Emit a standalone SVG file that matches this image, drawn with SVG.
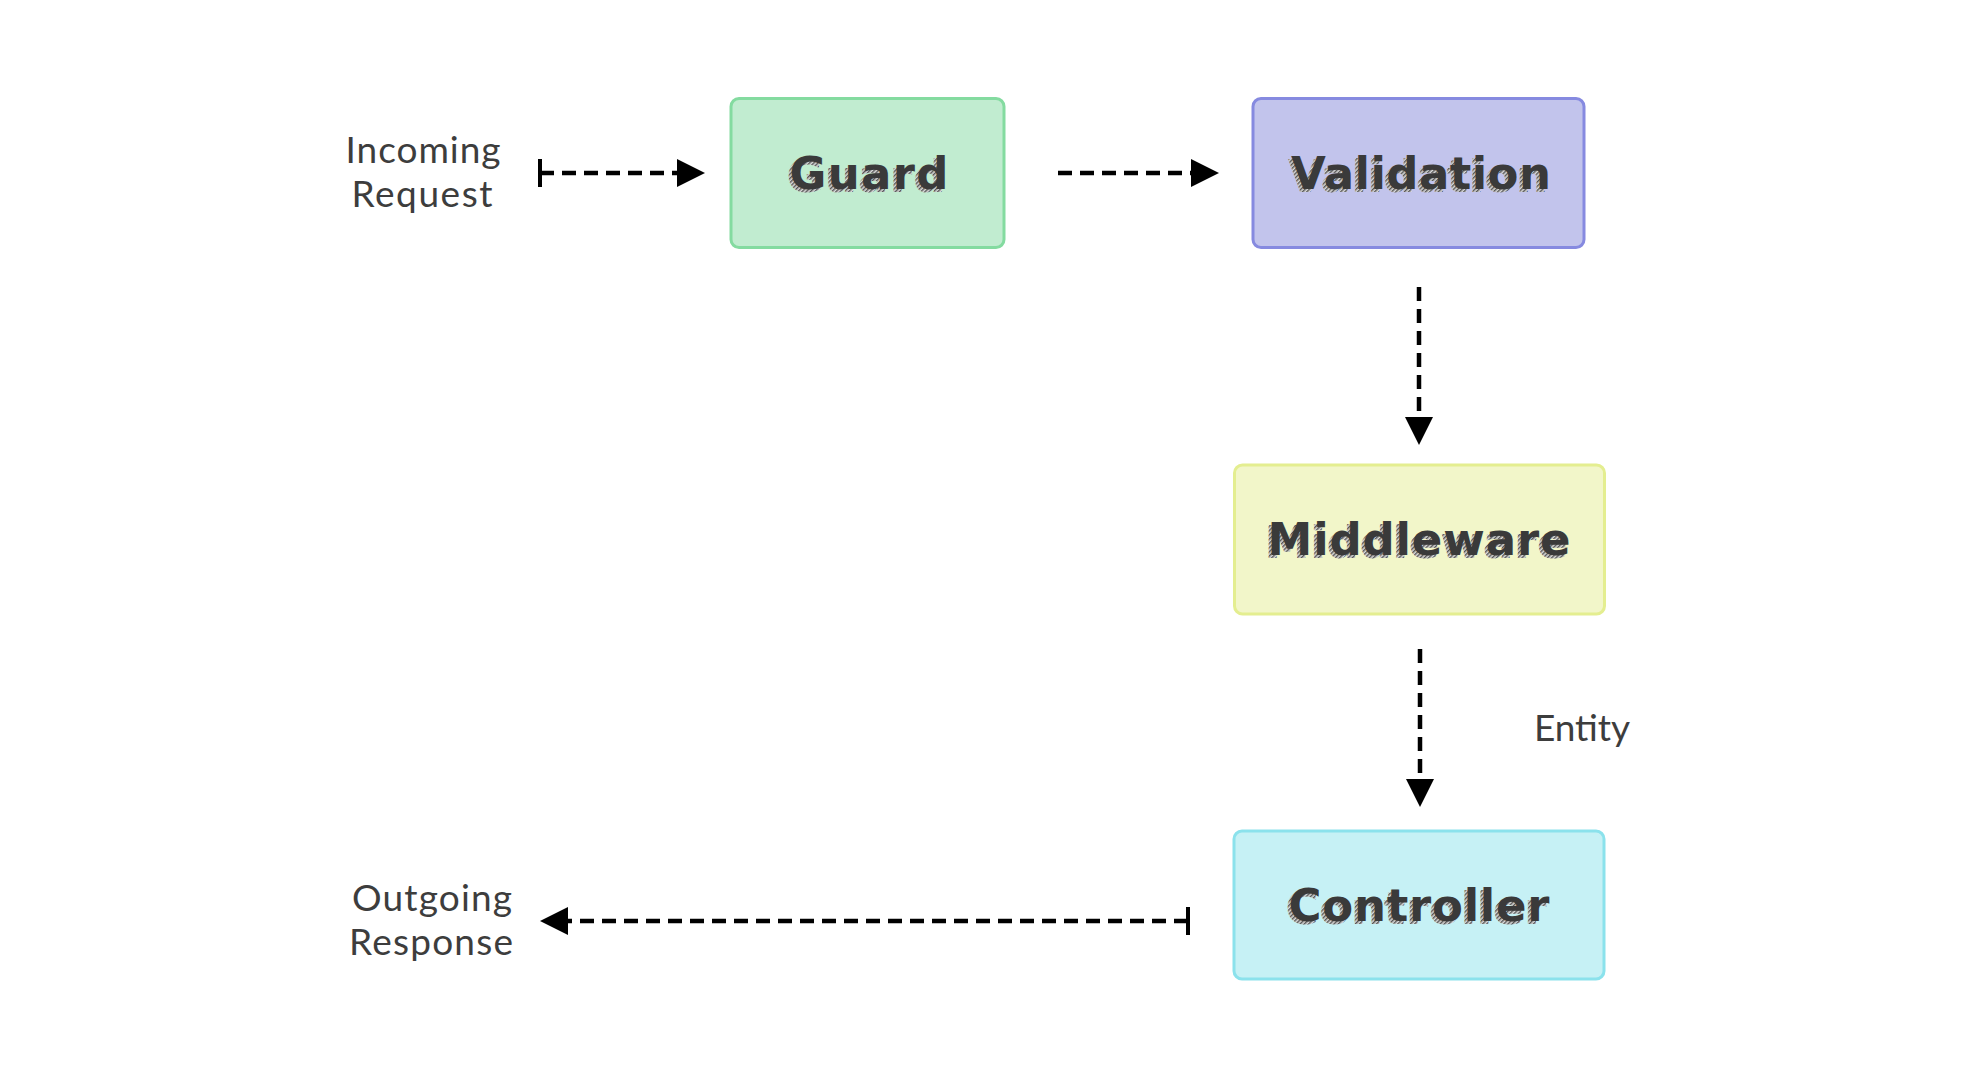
<svg xmlns="http://www.w3.org/2000/svg" width="1980" height="1080" viewBox="0 0 1980 1080">
<style>
.box{stroke-width:3}
.title{font-family:"DejaVu Sans",Lato,"Liberation Sans",sans-serif;font-weight:bold;font-size:45px;text-anchor:middle;fill:#3a3a3a}
.shadow{font-family:"DejaVu Sans",Lato,"Liberation Sans",sans-serif;font-weight:bold;font-size:45px;text-anchor:middle;fill:url(#hatch)}
.label{font-family:Lato,"Liberation Sans",sans-serif;font-size:37px;fill:#3d3d3d;text-anchor:middle}
.conn{fill:none;stroke:#000;stroke-width:4.5;stroke-dasharray:14 8}
</style>
<defs>
<pattern id="hatch" width="3" height="3" patternUnits="userSpaceOnUse" patternTransform="rotate(45)">
<rect width="3" height="3" fill="#d8d8d8"/>
<rect width="1.4" height="3" fill="#555"/>
</pattern>
<marker id="arrow" markerUnits="userSpaceOnUse" markerWidth="28" markerHeight="28" viewBox="0 0 28 28" refX="0" refY="14" orient="auto">
<path d="M0,0 L28,14 L0,28 Z" fill="#000"/>
</marker>
<marker id="bar" markerUnits="userSpaceOnUse" markerWidth="4" markerHeight="28" viewBox="0 0 4 28" refX="2" refY="14" orient="auto">
<rect width="4" height="28" fill="#000"/>
</marker>
</defs>
<rect width="1980" height="1080" fill="#fff"/>

<g id="connectors">
<line class="conn" x1="540" y1="173" x2="677" y2="173" marker-start="url(#bar)" marker-end="url(#arrow)"/>
<line class="conn" x1="1058" y1="173" x2="1191" y2="173" marker-end="url(#arrow)"/>
<line class="conn" x1="1419" y1="287" x2="1419" y2="417" marker-end="url(#arrow)"/>
<line class="conn" x1="1420" y1="649" x2="1420" y2="779" marker-end="url(#arrow)"/>
<line class="conn" x1="1188" y1="921" x2="568" y2="921" marker-start="url(#bar)" marker-end="url(#arrow)"/>
<text class="label" x="1582" y="741" textLength="96">Entity</text>
</g>

<g id="incoming">
<text class="label" x="423" y="163" textLength="155">Incoming</text>
<text class="label" x="422" y="207" textLength="141">Request</text>
</g>

<g id="outgoing">
<text class="label" x="432" y="911" textLength="160">Outgoing</text>
<text class="label" x="431" y="955" textLength="164">Response</text>
</g>

<g id="guard">
<rect class="box" x="731" y="98.5" width="273" height="149" rx="8" fill="#c1ecd0" stroke="#84dba0"/>
<text class="shadow" x="866" y="192" textLength="159">Guard</text>
<text class="title" x="869" y="189" textLength="159">Guard</text>
</g>

<g id="validation">
<rect class="box" x="1253" y="98.5" width="331" height="149" rx="8" fill="#c2c4ec" stroke="#868ae0"/>
<text class="shadow" x="1418" y="192" textLength="260">Validation</text>
<text class="title" x="1421" y="189" textLength="260">Validation</text>
</g>

<g id="middleware">
<rect class="box" x="1234.5" y="465" width="370" height="149" rx="8" fill="#f2f6c9" stroke="#e4ee90"/>
<text class="shadow" x="1416" y="558" textLength="303">Middleware</text>
<text class="title" x="1419" y="555" textLength="303">Middleware</text>
</g>

<g id="controller">
<rect class="box" x="1234" y="831" width="370" height="148" rx="8" fill="#c6f1f5" stroke="#8be2ec"/>
<text class="shadow" x="1416" y="924" textLength="261">Controller</text>
<text class="title" x="1419" y="921" textLength="261">Controller</text>
</g>
</svg>
